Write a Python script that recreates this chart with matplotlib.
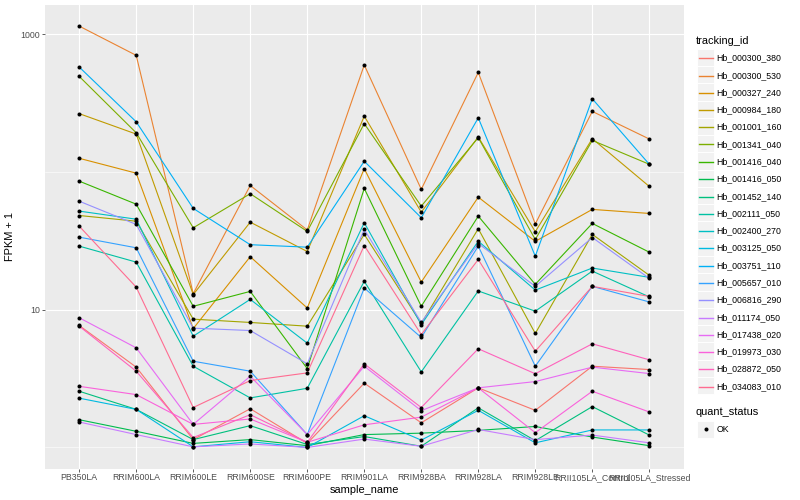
import matplotlib.pyplot as plt
from matplotlib.patches import Rectangle
from matplotlib.lines import Line2D
from matplotlib.ticker import FixedLocator, NullFormatter

plt.rcParams['font.family'] = ['Liberation Sans', 'DejaVu Sans']

samples = ['PB350LA', 'RRIM600LA', 'RRIM600LE', 'RRIM600SE', 'RRIM600PE',
           'RRIM901LA', 'RRIM928BA', 'RRIM928LA', 'RRIM928LE',
           'RRII105LA_Control', 'RRII105LA_Stressed']

tracking_ids = ['Hb_000300_380', 'Hb_000300_530', 'Hb_000327_240', 'Hb_000984_180',
                'Hb_001001_160', 'Hb_001341_040', 'Hb_001416_040', 'Hb_001416_050',
                'Hb_001452_140', 'Hb_002111_050', 'Hb_002400_270', 'Hb_003125_050',
                'Hb_003751_110', 'Hb_005657_010', 'Hb_006816_290', 'Hb_011174_050',
                'Hb_017438_020', 'Hb_019973_030', 'Hb_028872_050', 'Hb_034083_010']

# ggplot hue palette, 20 levels
colors = ['#F8766D', '#EA8331', '#D89000', '#C09B00', '#A3A500', '#7CAE00', '#39B600',
          '#00BB4E', '#00BF7D', '#00C1A3', '#00BFC4', '#00BAE0', '#00B0F6', '#35A2FF',
          '#9590FF', '#C77CFF', '#E76BF3', '#FA62DB', '#FF62BC', '#FF6C91']

# FPKM + 1 per sample
hb_000300_380 = [7.69, 3.83, 1.14, 1.91, 1.07, 2.93, 1.51, 2.71, 1.86, 3.89, 3.68]
hb_000300_530 = [1150, 705, 13.1, 80, 38, 600, 75, 530, 42, 276, 174]
hb_000327_240 = [126, 98.3, 7.3, 24.3, 10.3, 106, 15.9, 65.8, 31.4, 53.6, 50.1]
hb_000984_180 = [266, 189, 12.9, 43.3, 26.5, 255, 51.2, 180, 36.9, 175, 78.7]
hb_001001_160 = [48.4, 44.0, 8.55, 8.09, 7.60, 35.3, 7.95, 38.8, 6.73, 35.3, 17.8]
hb_001341_040 = [496, 193, 39.4, 69.7, 37.1, 225, 56.6, 178, 32.4, 170, 114]
hb_001416_040 = [86, 58.5, 10.6, 13.6, 3.74, 76.1, 10.6, 47.9, 15.3, 42.4, 26.2]
hb_001416_050 = [1.59, 1.31, 1.07, 1.14, 1.03, 1.24, 1.27, 1.33, 1.42, 1.19, 1.03]
hb_001452_140 = [2.56, 1.89, 1.14, 1.44, 1.05, 1.20, 1.02, 1.94, 1.12, 1.98, 1.23]
hb_002111_050 = [29.0, 22.2, 3.89, 2.29, 2.69, 16.1, 3.54, 13.7, 9.77, 19.1, 12.4]
hb_002400_270 = [52.1, 45.5, 6.43, 11.9, 5.72, 42.9, 7.8, 31.5, 13.9, 20.1, 17.2]
hb_003125_050 = [2.28, 1.89, 1.01, 1.10, 1.0, 1.70, 1.13, 1.86, 1.08, 1.34, 1.34]
hb_003751_110 = [580, 232, 54.5, 29.7, 28.5, 120, 46.6, 248, 24.5, 341, 114]
hb_005657_010 = [33.7, 28.2, 4.23, 3.58, 1.24, 14.4, 6.29, 29.0, 3.89, 14.8, 11.4]
hb_006816_290 = [61.5, 41.7, 7.35, 7.07, 4.05, 38.3, 8.1, 30.3, 14.8, 33.5, 16.9]
hb_011174_050 = [1.53, 1.24, 1.01, 1.06, 1.0, 1.15, 1.02, 1.35, 1.14, 1.23, 1.08]
hb_017438_020 = [8.75, 5.29, 1.47, 3.29, 1.24, 3.89, 1.85, 2.71, 3.01, 3.83, 3.44]
hb_019973_030 = [2.78, 2.42, 1.47, 1.61, 1.09, 1.46, 1.66, 2.71, 1.28, 2.56, 1.81]
hb_028872_050 = [7.6, 3.58, 1.18, 1.73, 1.09, 4.05, 1.95, 5.21, 3.43, 5.66, 4.33]
hb_034083_010 = [40.5, 14.6, 1.95, 3.06, 3.48, 29.3, 6.61, 23.2, 5.0, 14.8, 12.5]

series = [hb_000300_380, hb_000300_530, hb_000327_240, hb_000984_180, hb_001001_160,
          hb_001341_040, hb_001416_040, hb_001416_050, hb_001452_140, hb_002111_050,
          hb_002400_270, hb_003125_050, hb_003751_110, hb_005657_010, hb_006816_290,
          hb_011174_050, hb_017438_020, hb_019973_030, hb_028872_050, hb_034083_010]

W, H = 800, 500
fig = plt.figure(figsize=(8, 5), dpi=100)
ax = fig.add_axes([45 / W, 31.5 / H, 638.5 / W, 463.5 / H])
ax.set_facecolor('#EBEBEB')
for s in ax.spines.values():
    s.set_visible(False)

x = list(range(len(samples)))
for vals, col in zip(series, colors):
    ax.plot(x, vals, color=col, lw=0.8, zorder=3)
for vals in series:
    ax.plot(x, vals, 'o', color='black', ms=2.9, mew=0, zorder=4)

ax.set_yscale('log')
ax.set_ylim(10 ** -0.153, 10 ** 3.214)
ax.set_xlim(-0.6, len(samples) - 0.4)

ax.yaxis.set_major_locator(FixedLocator([10, 1000]))
ax.yaxis.set_minor_locator(FixedLocator([1, 100]))
ax.yaxis.set_minor_formatter(NullFormatter())
ax.set_yticklabels(['10', '1000'])
ax.set_xticks(x)
ax.set_xticklabels(samples)

ax.grid(True, which='major', color='white', lw=0.8, zorder=0)
ax.grid(True, which='minor', axis='y', color='white', lw=0.4, zorder=0)
ax.set_axisbelow(True)
ax.tick_params(which='major', length=2, width=0.55, color='#333333',
               labelsize=6.34, labelcolor='#4D4D4D', pad=1.6)
ax.tick_params(which='minor', length=0)

ax.set_xlabel('sample_name', fontsize=7.92, labelpad=2)
ax.set_ylabel('FPKM + 1', fontsize=7.92, labelpad=4)

# legend: tracking_id
key = 17.28
fig.text(696 / W, 1 - 40.7 / H, 'tracking_id', fontsize=7.92, va='center', ha='left')
for i, (name, col) in enumerate(zip(tracking_ids, colors)):
    yc = 48.7 + key * i
    fig.add_artist(Rectangle((697 / W, 1 - (yc + key) / H), key / W, key / H,
                             facecolor='#F2F2F2', edgecolor='white', lw=0.7,
                             transform=fig.transFigure, zorder=1))
    ymid = 1 - (round(yc + key / 2) + 0.5) / H
    fig.add_artist(Line2D([698.5 / W, 713 / W], [ymid, ymid], color=col, lw=1.0,
                          transform=fig.transFigure, zorder=5))
    fig.text(716.5 / W, ymid, name, fontsize=6.34, va='center', ha='left')

# legend: quant_status
fig.text(696 / W, 1 - 412.3 / H, 'quant_status', fontsize=7.92, va='center', ha='left')
fig.add_artist(Rectangle((697 / W, 1 - (420.7 + key) / H), key / W, key / H,
                         facecolor='#F2F2F2', edgecolor='white', lw=0.7,
                         transform=fig.transFigure, zorder=1))
ok_y = 1 - 429.3 / H
fig.add_artist(Line2D([705.6 / W], [ok_y], marker='o', color='black', ms=2.9, mew=0,
                      transform=fig.transFigure, zorder=5))
fig.text(716.5 / W, ok_y, 'OK', fontsize=6.34, va='center', ha='left')

fig.savefig('out.png', dpi=100)
